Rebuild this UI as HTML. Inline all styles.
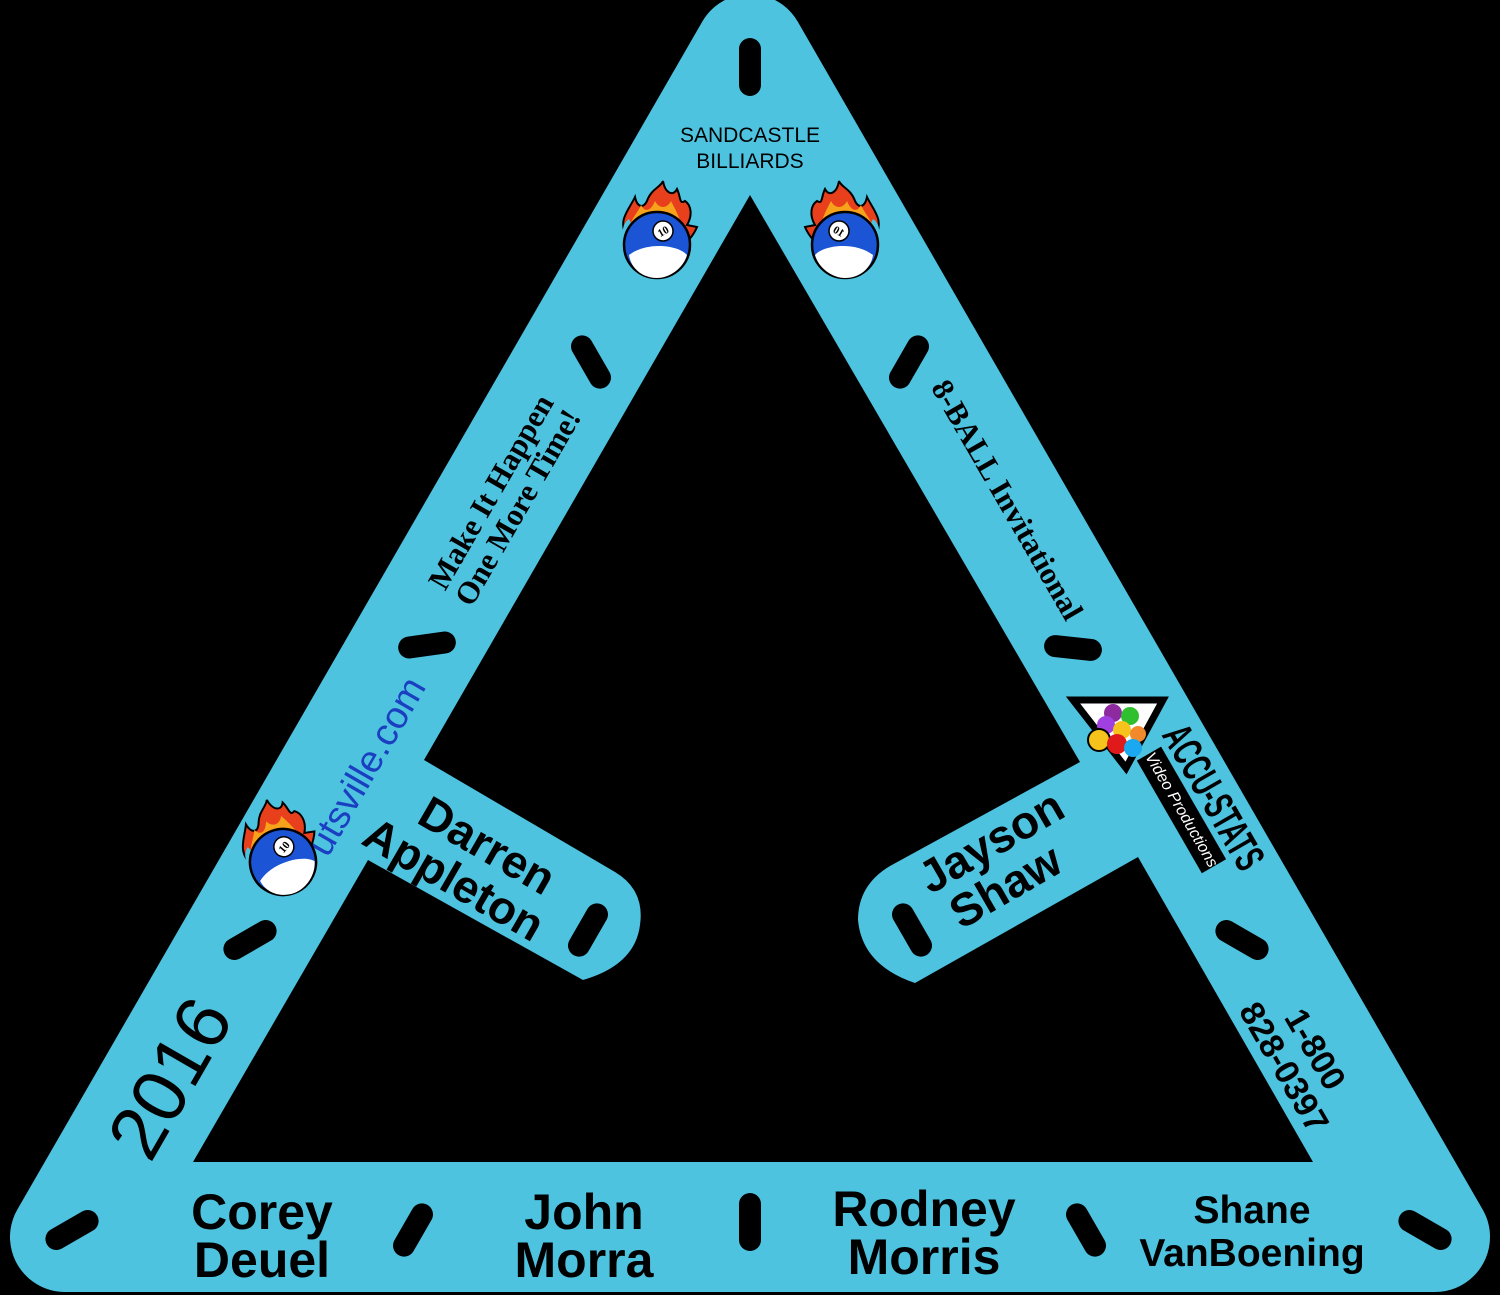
<!DOCTYPE html>
<html><head><meta charset="utf-8"><style>
html,body{margin:0;padding:0;background:#000;}
svg{display:block;}
text{font-family:"Liberation Sans",sans-serif;}
.b{font-weight:bold;}
.serif{font-family:"Liberation Serif",serif;font-weight:bold;}
</style></head><body>
<svg width="1500" height="1295" viewBox="0 0 1500 1295" xmlns="http://www.w3.org/2000/svg">
<defs>
<g id="ball">
  <path d="M-30,-8 C-40,-25 -28,-35 -22,-48 C-20,-38 -14,-36 -10,-44 C-6,-56 4,-58 6,-64 C8,-52 16,-48 20,-56 C24,-48 22,-40 28,-44 C34,-40 36,-30 30,-20 L40,-18 C36,-8 30,-4 28,0 Z" fill="#e8401c" stroke="#000" stroke-width="2"/>
  <path d="M-26,-10 C-30,-24 -20,-30 -16,-40 C-12,-32 -6,-34 -2,-44 C2,-36 10,-36 14,-44 C18,-36 22,-30 26,-14 Z" fill="#f7a21b"/>
  <path d="M-32,-4 C-36,-14 -34,-22 -28,-26 L-20,-10 Z" fill="#4ec3e0"/>
  <circle r="33" fill="#1b55d6" stroke="#000" stroke-width="2.5"/>
  <path d="M-28,10 C-10,-4 22,0 30,10 C26,24 12,33 0,33 C-14,33 -26,24 -28,10 Z" fill="#fff"/>
  <circle cx="6" cy="-14" r="10" fill="#fff" stroke="#000" stroke-width="1.5"/>
  <text x="6" y="-10" font-size="11" text-anchor="middle" class="serif" transform="rotate(-30 6 -14)">10</text>
</g>
<rect id="slot" x="-11" y="-29" width="22" height="58" rx="11" fill="#000"/>
</defs>
<rect width="1500" height="1295" fill="#000"/>
<polygon points="750,49 65,1237 1435,1237" fill="#4ec3e0" stroke="#4ec3e0" stroke-width="110" stroke-linejoin="round"/>
<path d="M750,195 L1080,762 L890,866 Q858,885 858,920 Q862,965 915,983 L1138,857 L1313,1162 L193,1162 L368,860 L583,980 Q635,965 640,925 Q645,890 615,872 L424,760 Z" fill="#000"/>

<use href="#slot" transform="translate(750,67)"/>
<use href="#slot" transform="translate(591,362) rotate(-30)"/>
<use href="#slot" transform="translate(427,645) rotate(82)"/>
<use href="#slot" transform="translate(250,940) rotate(60)"/>
<use href="#slot" transform="translate(72,1230) rotate(60)"/>
<use href="#slot" transform="translate(413,1230) rotate(30)"/>
<use href="#slot" transform="translate(750,1222)"/>
<use href="#slot" transform="translate(1086,1230) rotate(-30)"/>
<use href="#slot" transform="translate(1425,1230) rotate(-60)"/>
<use href="#slot" transform="translate(1242,940) rotate(-60)"/>
<use href="#slot" transform="translate(1073,648) rotate(-84)"/>
<use href="#slot" transform="translate(909,362) rotate(30)"/>
<use href="#slot" transform="translate(588,930) rotate(30)"/>
<use href="#slot" transform="translate(912,930) rotate(-30)"/>

<text x="750" y="142" font-size="21" text-anchor="middle">SANDCASTLE</text>
<text x="750" y="168" font-size="21" text-anchor="middle">BILLIARDS</text>
<use href="#ball" transform="translate(657,245)"/>
<use href="#ball" transform="translate(845,245) scale(-1,1)"/>

<text class="serif" font-size="31" text-anchor="middle" transform="translate(505,500) rotate(-60)"><tspan x="0" y="-6">Make It Happen</tspan><tspan x="0" y="25">One More Time!</tspan></text>
<text class="serif" font-size="31" text-anchor="middle" transform="translate(1007,500) rotate(60)"><tspan x="0" y="10">8-BALL Invitational</tspan></text>

<text font-size="38" fill="#1a3fc0" text-anchor="middle" transform="translate(366,766) rotate(-60)"><tspan x="0" y="13">utsville.com</tspan></text>
<use href="#ball" transform="translate(283,862) rotate(-20)"/>

<text class="b" font-size="46" text-anchor="middle" transform="translate(465,860) rotate(30)"><tspan x="12" y="-8">Darren</tspan><tspan x="0" y="38">Appleton</tspan></text>
<text class="b" font-size="46" text-anchor="middle" transform="translate(1003,862) rotate(-30)"><tspan x="0" y="-8">Jayson</tspan><tspan x="-10" y="38">Shaw</tspan></text>

<text font-size="76" text-anchor="middle" transform="translate(170,1078) rotate(-60)"><tspan x="0" y="26">2016</tspan></text>
<text class="b" font-size="34" text-anchor="middle" transform="translate(1300,1058) rotate(60)"><tspan x="0" y="-6">1-800</tspan><tspan x="0" y="30">828-0397</tspan></text>

<g transform="translate(1118,708)">
  <polygon points="-45,-8 45,-8 8,60" fill="#fff" stroke="#000" stroke-width="7"/>
  <circle cx="-5" cy="5" r="9" fill="#8e2aa0"/><circle cx="12" cy="8" r="9" fill="#2fbf2f"/><circle cx="-12" cy="17" r="9" fill="#a040e0"/>
  <circle cx="4" cy="22" r="9" fill="#f5c31c"/><circle cx="20" cy="26" r="8" fill="#f28a2c"/>
  <circle cx="-19" cy="32" r="11" fill="#f5c31c" stroke="#000" stroke-width="2"/><circle cx="-1" cy="36" r="10" fill="#e01a1a"/><circle cx="15" cy="40" r="9" fill="#1aa8f0"/>
  <g transform="rotate(60)">
    <rect x="55" y="-18" width="130" height="28" fill="#000"/>
    <text x="120" y="1" font-size="16" fill="#fff" text-anchor="middle" font-style="italic">Video Productions</text>
    <text x="125" y="-24" font-size="42" class="b" text-anchor="middle" textLength="160" lengthAdjust="spacingAndGlyphs">ACCU-STATS</text>
  </g>
</g>

<g font-size="50" text-anchor="middle">
<text x="262" y="1229" class="b">Corey</text><text x="262" y="1277" class="b">Deuel</text>
<text x="584" y="1229" class="b">John</text><text x="584" y="1277" class="b">Morra</text>
<text x="924" y="1226" class="b">Rodney</text><text x="924" y="1274" class="b">Morris</text>
</g>
<text x="1252" y="1223" font-size="39" class="b" text-anchor="middle">Shane</text>
<text x="1252" y="1266" font-size="39" class="b" text-anchor="middle">VanBoening</text>
</svg>
</body></html>
